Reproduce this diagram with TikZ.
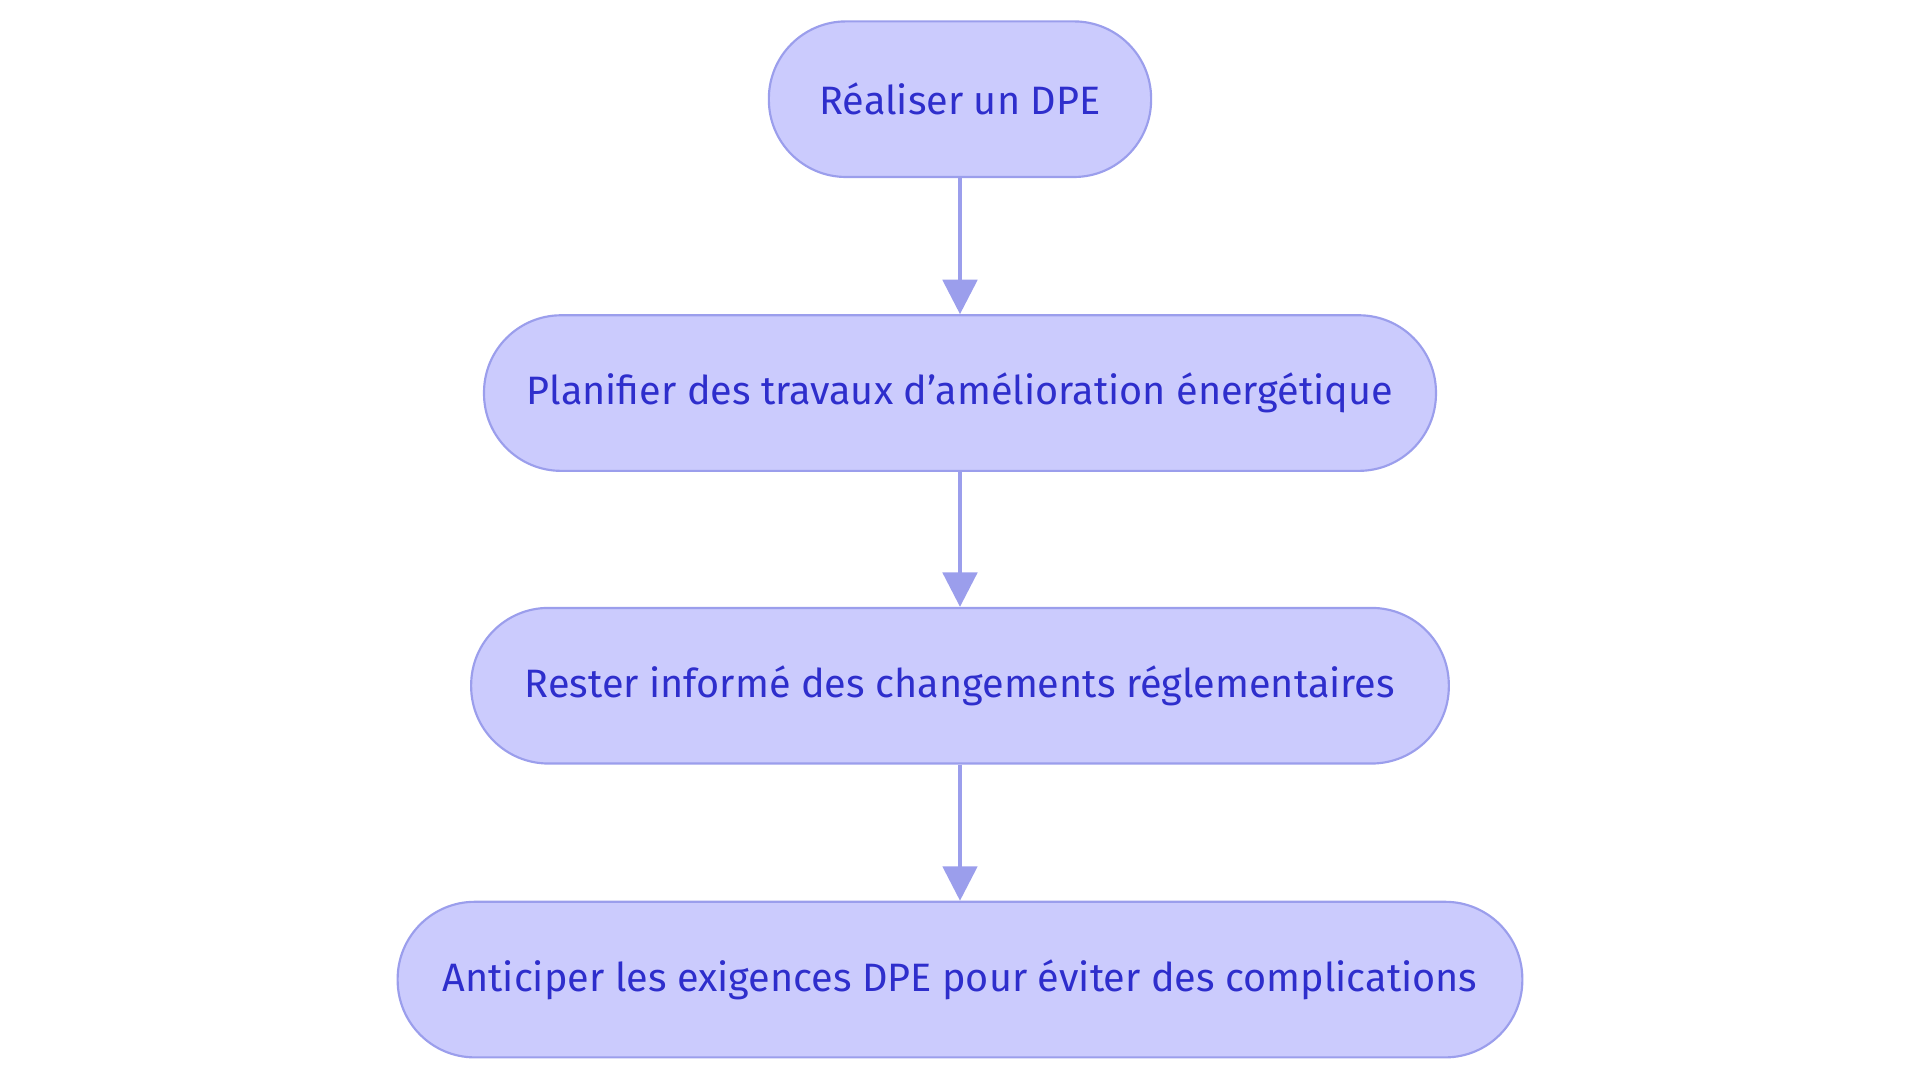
\documentclass[tikz,border=0pt]{standalone}
\usepackage{fontspec}
\setmainfont{Fira Sans}
\usepackage{tikz}
\usetikzlibrary{arrows.meta}
\definecolor{boxfill}{HTML}{CBCBFD}
\definecolor{boxline}{HTML}{9B9EEC}
\definecolor{boxtext}{HTML}{2E2ECC}

\begin{document}
\begin{tikzpicture}[x=0.01cm,y=-0.01cm,
    stepbox/.style={draw=boxline, line width=0.5pt, fill=boxfill, text=boxtext,
        rounded corners=0.63cm, minimum height=1.27cm, font=\fontsize{9.2}{11}\selectfont},
    flow/.style={draw=boxline, line width=0.9pt, -{Triangle[length=8pt,width=8pt]}}]
    % page frame
    \useasboundingbox (0,0) rectangle (1568,884);

    % steps
    \node[stepbox, minimum width=3.12cm] (dpe) at (784,81) {Réaliser un DPE};
    \node[stepbox, minimum width=7.77cm] (travaux) at (784,321) {Planifier des travaux d'amélioration énergétique};
    \node[stepbox, minimum width=7.98cm] (informe) at (784,560) {Rester informé des changements réglementaires};
    \node[stepbox, minimum width=9.18cm] (anticiper) at (784,800) {Anticiper les exigences DPE pour éviter des complications};

    % arrows
    \draw[flow] (dpe) -- (travaux);
    \draw[flow] (travaux) -- (informe);
    \draw[flow] (informe) -- (anticiper);
\end{tikzpicture}
\end{document}
